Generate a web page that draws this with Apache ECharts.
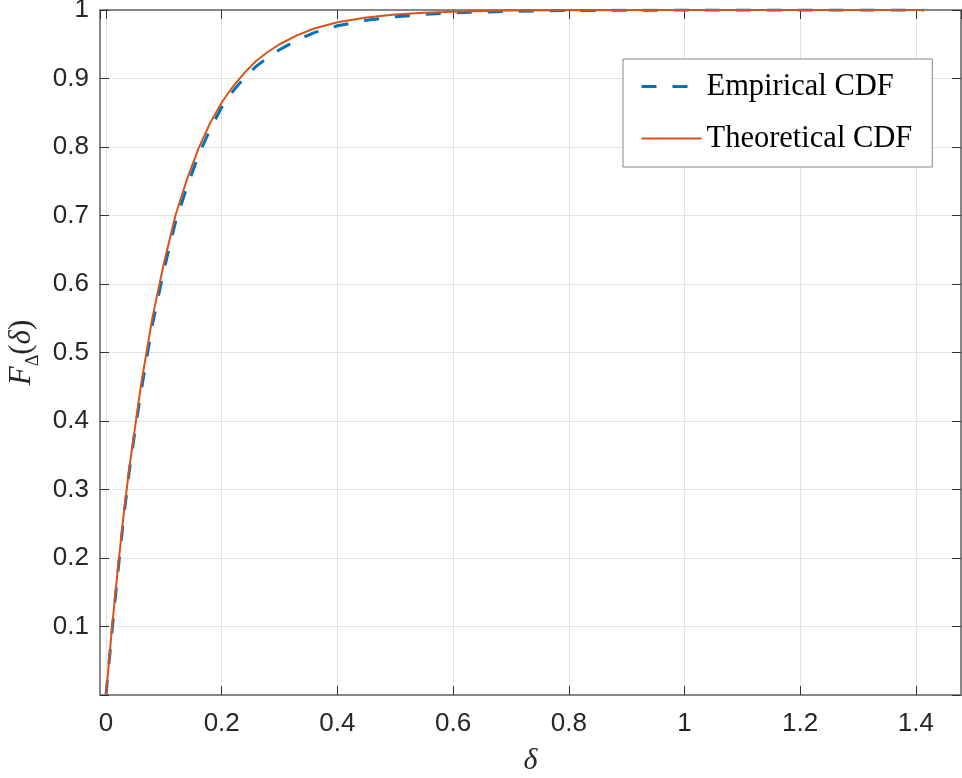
<!DOCTYPE html>
<html>
<head>
<meta charset="utf-8">
<script src="https://cdn.jsdelivr.net/npm/echarts@6/dist/echarts.min.js"></script>
<style>html,body{margin:0;padding:0;background:#fff;}#c{width:962px;height:778px;}</style>
</head>
<body>
<div id="c"></div>
<script>
// delta values (x)
const deltaValues = [0, 0.01, 0.02, 0.03, 0.04, 0.05, 0.06, 0.07, 0.08, 0.09, 0.10, 0.12, 0.14, 0.16, 0.18, 0.20, 0.22, 0.24, 0.26, 0.28, 0.30, 0.33, 0.36, 0.40, 0.45, 0.50, 0.55, 0.60, 0.70, 0.80, 1.00, 1.20, 1.414];
// Empirical CDF values
const empiricalCDF = [0, 0.09, 0.175, 0.255, 0.325, 0.385, 0.44, 0.49, 0.54, 0.58, 0.62, 0.69, 0.742, 0.788, 0.826, 0.858, 0.882, 0.902, 0.918, 0.931, 0.942, 0.956, 0.967, 0.977, 0.985, 0.990, 0.9935, 0.996, 0.998, 0.9993, 0.9999, 1.0, 1.0];
// Theoretical CDF values
const theoreticalCDF = [0, 0.095, 0.18, 0.26, 0.33, 0.39, 0.45, 0.50, 0.55, 0.59, 0.63, 0.70, 0.753, 0.798, 0.835, 0.865, 0.889, 0.909, 0.926, 0.939, 0.950, 0.963, 0.973, 0.982, 0.989, 0.9933, 0.9959, 0.9975, 0.9991, 0.9997, 1.0, 1.0, 1.0];
const seriesNames = ['Empirical CDF', 'Theoretical CDF'];
const xTicks = [0, 0.2, 0.4, 0.6, 0.8, 1, 1.2, 1.4];
const yTicks = [0.1, 0.2, 0.3, 0.4, 0.5, 0.6, 0.7, 0.8, 0.9, 1];

const X_MIN = -0.0104, X_MAX = 1.478;
const axisGray = '#878787';
const tickDark = '#333333';
const labelColor = '#262626';

function pairs(xs, ys) { return xs.map((x, i) => [x, ys[i]]); }
function near(v, list) { return list.some(t => Math.abs(t - v) < 1e-6); }

const chart = echarts.init(document.getElementById('c'), null, {renderer: 'canvas'});
const option = {
  animation: false,
  backgroundColor: '#ffffff',
  grid: {left: 100, right: 1, top: 10, bottom: 83, containLabel: false, outerBoundsMode: 'none'},
  legend: {
    orient: 'vertical',
    left: 623, top: 59,
    padding: [12, 20, 13, 17],
    itemWidth: 60, itemHeight: 14, itemGap: 21,
    backgroundColor: '#ffffff',
    borderColor: '#878787', borderWidth: 1,
    itemStyle: {color: 'rgba(0,0,0,0)', borderWidth: 0, opacity: 0},
    lineStyle: {width: 'inherit'},
    textStyle: {fontFamily: 'Liberation Serif', fontSize: 30.5, color: '#000', lineHeight: 30},
    data: seriesNames
  },
  xAxis: [{
    type: 'value', min: X_MIN, max: X_MAX, minInterval: 0.2, maxInterval: 0.2,
    position: 'bottom',
    axisLine: {show: true, onZero: false, lineStyle: {color: axisGray, width: 2}},
    axisTick: {show: true, inside: true, length: 9, lineStyle: {color: tickDark, width: 1}},
    axisLabel: {show: true, margin: 16, fontFamily: 'Liberation Sans', fontSize: 26, color: labelColor,
      showMinLabel: false, showMaxLabel: false,
      formatter: v => near(v, xTicks) ? String(Math.round(v * 10) / 10) : ''},
    splitLine: {show: true, lineStyle: {color: '#e3e3e3', width: 1}},
    name: '{i|δ}', nameLocation: 'middle', nameGap: 51, nameMoveOverlap: false,
    nameTextStyle: {rich: {i: {fontFamily: 'Liberation Serif', fontStyle: 'italic', fontSize: 30, color: labelColor}}}
  }, {
    type: 'value', min: X_MIN, max: X_MAX, minInterval: 0.2, maxInterval: 0.2,
    position: 'top',
    axisLine: {show: true, onZero: false, lineStyle: {color: axisGray, width: 2}},
    axisTick: {show: true, inside: true, length: 9, lineStyle: {color: tickDark, width: 1}},
    axisLabel: {show: false},
    splitLine: {show: false}
  }],
  yAxis: [{
    type: 'value', min: 0, max: 1, interval: 0.1,
    position: 'left',
    axisLine: {show: true, onZero: false, lineStyle: {color: axisGray, width: 2}},
    axisTick: {show: true, inside: true, length: 9, lineStyle: {color: tickDark, width: 1}},
    axisLabel: {show: true, margin: 11, fontFamily: 'Liberation Sans', fontSize: 26, color: labelColor,
      formatter: v => near(v, yTicks) ? String(Math.round(v * 10) / 10) : ''},
    splitLine: {show: true, lineStyle: {color: '#e3e3e3', width: 1}},
    name: '{i|F}{s|Δ}{n|(}{i|δ}{n|)}', nameLocation: 'middle', nameGap: 58, nameRotate: 90, nameMoveOverlap: false,
    nameTextStyle: {rich: {
      i: {fontFamily: 'Liberation Serif', fontStyle: 'italic', fontSize: 31, color: labelColor, lineHeight: 40, verticalAlign: 'middle'},
      n: {fontFamily: 'Liberation Serif', fontSize: 31, color: labelColor, lineHeight: 40, verticalAlign: 'middle'},
      s: {fontFamily: 'Liberation Serif', fontSize: 18, color: labelColor, lineHeight: 18, verticalAlign: 'bottom'}
    }}
  }, {
    type: 'value', min: 0, max: 1, interval: 0.1,
    position: 'right',
    axisLine: {show: true, onZero: false, lineStyle: {color: axisGray, width: 2}},
    axisTick: {show: true, inside: true, length: 9, lineStyle: {color: tickDark, width: 1}},
    axisLabel: {show: false},
    splitLine: {show: false}
  }],
  series: [{
    name: seriesNames[0], type: 'line', xAxisIndex: 0, yAxisIndex: 0,
    data: pairs(deltaValues, empiricalCDF),
    symbol: 'none', smooth: false,
    lineStyle: {color: '#0072BD', width: 3, type: [15, 16]},
    itemStyle: {color: '#0072BD'}
  }, {
    name: seriesNames[1], type: 'line', xAxisIndex: 0, yAxisIndex: 0,
    data: pairs(deltaValues, theoreticalCDF),
    symbol: 'none', smooth: false,
    lineStyle: {color: '#D95319', width: 2},
    itemStyle: {color: '#D95319'}
  }]
};
chart.setOption(option);
</script>
</body>
</html>
